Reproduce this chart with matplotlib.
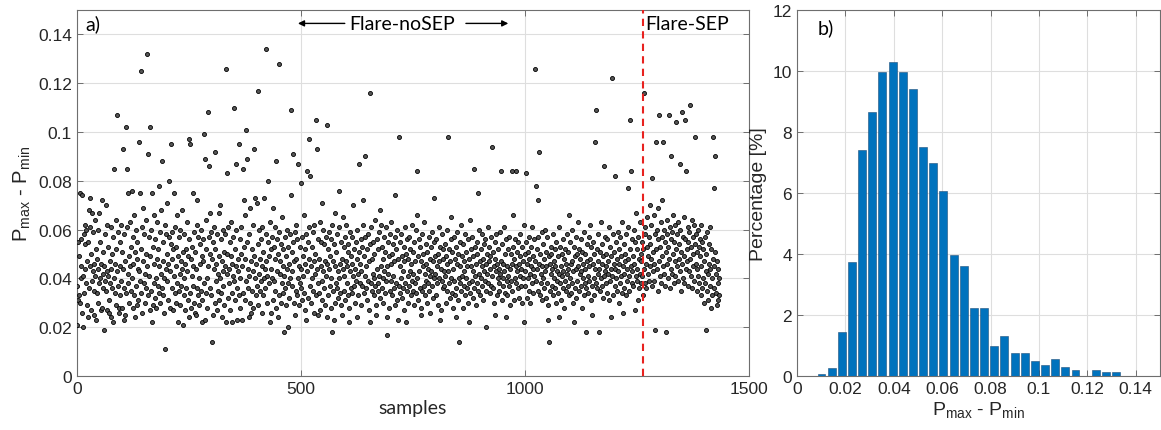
"""Flare samples: P_max - P_min scatter and its histogram."""

import matplotlib

matplotlib.use("Agg")
import matplotlib.pyplot as plt  # noqa: E402
import numpy as np  # noqa: E402

# P_max - P_min per sample, in units of 1e-3 (20 samples per row)
SAMPLE_VALUES_MILLI = """
37 21 31 55 49 33 75 30 45 40 56 74 26 41 20 58 34 44 62 54
38 60 47 29 55 24 68 36 61 45 73 27 50 39 67 43 59 35 46 25
64 41 52 23 34 48 60 44 30 67 38 55 40 27 46 72 28 51 36 42
19 45 58 39 70 35 62 43 27 53 41 26 31 47 38 61 24 44 50 36
22 57 40 85 46 34 64 29 52 107 43 37 59 28 26 55 33 45 62 39
51 28 44 93 36 58 23 47 25 102 34 85 61 42 75 38 30 49 63 45
53 35 76 40 28 57 46 66 33 51 24 60 37 29 48 55 44 31 96 43
75 39 125 52 34 61 26 47 69 38 58 42 30 50 64 36 45 132 91 33
41 57 27 49 102 35 60 22 75 29 53 38 66 46 32 56 40 28 63 48
37 52 34 78 45 30 59 42 68 36 88 47 33 55 26 40 11 62 44 58
39 50 71 31 46 57 80 28 43 54 95 36 59 48 27 52 41 75 34 61
45 30 53 38 66 22 49 57 35 42 60 29 47 37 68 44 21 51 33 40
58 27 46 52 36 43 63 31 49 24 56 97 34 95 48 28 41 53 37 75
45 30 59 26 51 25 44 62 36 72 33 57 40 29 46 54 35 60 22 49
31 47 56 99 38 23 89 52 34 64 40 28 108 45 57 86 36 50 67 59
33 14 48 55 25 44 61 30 52 92 39 46 27 58 42 35 67 49 31 70
40 56 34 47 24 60 43 37 51 29 45 58 22 126 42 83 50 32 61 44
38 55 27 49 63 34 46 22 41 57 110 39 52 31 87 45 60 36 23 48
43 95 33 56 40 28 50 61 23 45 34 85 53 72 66 31 48 39 101 89
55 36 44 24 58 41 30 69 47 26 52 35 62 43 28 49 93 40 73 33
46 71 37 54 29 117 42 60 35 48 39 56 26 45 61 33 51 40 73 44
36 58 47 134 41 30 55 80 38 49 63 22 44 26 52 40 57 31 69 53
39 61 35 48 28 88 43 56 24 50 33 59 128 42 47 30 54 38 65 45
34 52 41 18 57 36 49 29 44 60 38 53 20 46 32 58 40 74 109 43
51 37 91 55 30 47 25 59 35 62 48 33 56 87 40 45 29 53 38 79
44 36 57 31 49 41 66 34 52 27 46 58 23 43 84 55 32 97 48 61
37 82 45 30 53 40 59 35 47 26 62 42 50 33 105 44 93 38 56 25
48 34 63 27 45 55 39 71 31 60 43 36 54 47 29 41 57 24 103 46
52 33 44 59 37 49 28 56 40 18 62 35 47 23 54 30 45 67 38 51
36 58 43 32 76 40 61 34 46 55 29 48 25 65 44 35 53 41 57 31
47 62 38 45 54 33 51 22 28 59 43 36 49 57 34 46 41 70 37 52
44 30 55 39 48 24 60 42 33 51 87 38 46 56 29 43 53 37 62 72
49 34 57 41 90 36 45 52 31 58 39 47 27 54 22 116 38 61 35 48
42 55 33 50 40 64 37 25 29 56 44 35 52 38 59 41 68 32 62 45
36 53 40 48 30 57 43 34 51 39 61 17 45 24 55 42 28 49 58 35
46 39 63 33 50 41 54 36 47 29 57 74 38 52 31 60 23 48 98 37
55 34 45 40 58 32 49 43 36 53 27 47 61 38 22 50 35 56 41 30
48 57 37 43 52 33 46 39 62 35 51 42 29 55 38 47 34 60 84 66
40 49 31 56 43 36 53 28 47 25 58 35 45 50 37 63 42 33 54 39
46 30 51 38 44 57 35 48 41 26 53 43 37 59 32 47 40 55 73 49
42 33 56 45 38 50 29 61 40 47 23 53 44 27 58 39 48 36 52 43
37 54 41 30 49 46 60 35 43 98 38 52 32 47 56 40 65 34 51 28
44 57 39 48 33 53 24 36 59 46 31 50 40 14 55 38 45 62 35 49
41 28 54 37 47 43 33 58 40 51 36 45 30 56 22 48 38 64 34 52
45 39 57 32 49 43 85 36 53 41 46 29 55 38 50 75 35 60 42 47
33 52 40 45 58 37 48 31 54 43 39 56 46 35 20 50 42 61 38 47
53 34 44 49 37 57 41 94 36 51 45 30 55 25 48 43 58 33 46 40
52 38 44 35 59 42 47 84 31 54 40 46 37 61 43 50 34 24 56 39
45 33 52 41 37 57 44 29 50 39 84 46 35 53 66 48 31 56 40 45
84 38 51 43 36 55 46 32 49 41 58 37 44 53 30 47 40 62 22 50
43 37 55 83 46 32 51 40 48 35 57 42 30 53 45 38 61 44 49 34
41 56 47 126 39 78 52 44 35 57 72 92 46 33 50 42 38 59 45 31
54 40 48 36 60 43 32 51 45 38 57 23 29 49 14 46 35 53 42 50
37 44 58 33 47 40 52 36 45 30 55 43 39 49 34 61 42 24 38 53
45 31 50 41 36 56 43 48 28 52 39 46 35 58 42 37 51 44 33 66
40 55 46 34 60 38 47 43 30 53 22 49 36 57 44 32 50 39 63 45
35 52 42 48 37 56 43 28 51 40 46 33 59 44 38 50 36 18 47 54
41 34 57 45 39 62 48 31 53 25 37 55 46 40 50 33 96 44 38 109
52 36 47 42 58 18 44 35 51 40 63 46 37 54 32 49 86 41 57 43
38 50 45 34 56 42 47 31 61 39 53 44 24 49 122 41 58 33 46 51
82 37 44 55 40 48 35 59 43 30 52 46 38 57 41 49 34 63 45 26
54 42 36 50 47 33 58 44 39 61 48 77 41 35 105 52 84 45 38 56
43 49 37 60 46 27 55 41 67 39 52 44 31 57 48 36 63 42 50 38
47 41 55 33 52 116 44 58 38 61 46 36 53 65 42 49 57 39 70 45
54 48 62 37 81 51 43 66 46 39 58 19 96 52 44 60 35 56 69 47
107 41 53 63 38 57 49 72 96 45 60 42 55 37 18 51 64 46 58 40
53 107 48 61 36 56 44 90 59 42 66 50 38 55 47 62 41 104 52 45
58 39 63 48 54 87 43 60 35 51 108 46 57 40 65 49 38 56 105 44
84 52 47 61 37 55 43 59 111 48 53 41 64 36 50 57 45 62 39 54
98 46 58 35 51 44 60 41 53 38 56 49 33 62 45 36 55 40 52 30
47 38 57 43 19 50 35 59 42 31 54 46 37 61 44 28 52 40 33 48
98 77 45 36 51 90 34 42 29 47 38 31 44 33 40
"""

SEP_START = 1264  # first Flare-SEP sample

# histogram panel: bin centres and percentage per bin
BIN_CENTERS = [0.0101 + 0.0042 * i for i in range(30)]
BIN_PERCENT = [0.07, 0.27, 1.45, 3.75, 7.4, 8.65, 9.97, 10.3, 9.97, 9.42,
               7.52, 6.97, 6.05, 3.98, 3.6, 2.22, 2.22, 0.97, 1.3, 0.75,
               0.75, 0.48, 0.35, 0.55, 0.28, 0.2, 0.0, 0.2, 0.13, 0.13]

TICK_FONT = "Liberation Sans"
NOTE_FONT = "Lato"
TEXT_COL = "#262626"

values = np.array(SAMPLE_VALUES_MILLI.split(), dtype=float) / 1000.0
samples = np.arange(len(values))

plt.rcParams["font.family"] = TICK_FONT
plt.rcParams["mathtext.fontset"] = "custom"
plt.rcParams["mathtext.rm"] = TICK_FONT
plt.rcParams["mathtext.it"] = TICK_FONT


def _matlab_axes(ax):
    ax.grid(True, color="#dedede", lw=0.8)
    ax.set_axisbelow(True)
    for s in ax.spines.values():
        s.set_color("#6e6e6e")
        s.set_linewidth(0.8)
    ax.tick_params(direction="in", length=4, width=0.7, top=True, right=True,
                   labelsize=12.5, colors="#6e6e6e", labelcolor=TEXT_COL)


fig = plt.figure(figsize=(11.61, 4.31), dpi=100)
ax1 = fig.add_axes([0.0663, 0.1253, 0.5788, 0.8492])
ax2 = fig.add_axes([0.6865, 0.1253, 0.3126, 0.8492])

# ---- a) scatter
ax1.plot(samples, values, "o", ms=2.9, mfc="#555555", mec="black", mew=0.6,
         zorder=3)
ax1.axvline(SEP_START, color="#e8221f", ls=(0, (3.5, 2.5)), lw=1.5, zorder=4)
ax1.set_xlim(0, 1500)
ax1.set_ylim(0, 0.15)
ax1.set_xticks([0, 500, 1000, 1500])
ax1.set_yticks(np.arange(0, 0.141, 0.02))
ax1.set_yticklabels(["0", "0.02", "0.04", "0.06", "0.08", "0.1", "0.12", "0.14"])
_matlab_axes(ax1)
ax1.set_xlabel("samples", fontsize=14, family=NOTE_FONT, color=TEXT_COL,
               labelpad=2)
ax1.set_ylabel(r"P$_{\mathrm{max}}$ - P$_{\mathrm{min}}$", fontsize=14.5,
               color=TEXT_COL, labelpad=4)

ax1.text(18, 0.1445, "a)", fontsize=14, family=NOTE_FONT, va="center")
ax1.text(725, 0.1445, "Flare-noSEP", fontsize=14, family=NOTE_FONT,
         ha="center", va="center")
ax1.annotate("", xy=(487, 0.1445), xytext=(604, 0.1445),
             arrowprops=dict(arrowstyle="-|>", color="black", lw=1.0,
                             mutation_scale=9))
ax1.annotate("", xy=(969, 0.1445), xytext=(862, 0.1445),
             arrowprops=dict(arrowstyle="-|>", color="black", lw=1.0,
                             mutation_scale=9))
ax1.text(1362, 0.1445, "Flare-SEP", fontsize=14, family=NOTE_FONT,
         ha="center", va="center")

# ---- b) histogram
ax2.bar(BIN_CENTERS, BIN_PERCENT, width=0.0042 * 0.78, color="#0072BD",
        edgecolor="#1f4e79", lw=0.4, zorder=3)
ax2.set_xlim(0, 0.15)
ax2.set_ylim(0, 12)
ax2.set_xticks(np.arange(0, 0.141, 0.02))
ax2.set_xticklabels(["0", "0.02", "0.04", "0.06", "0.08", "0.1", "0.12", "0.14"])
ax2.set_yticks(range(0, 13, 2))
_matlab_axes(ax2)
ax2.set_xlabel(r"P$_{\mathrm{max}}$ - P$_{\mathrm{min}}$", fontsize=14,
               color=TEXT_COL, labelpad=2)
ax2.set_ylabel("Percentage [%]", fontsize=14, color=TEXT_COL, labelpad=4)
ax2.text(0.0085, 11.45, "b)", fontsize=14, family=NOTE_FONT, va="center")

fig.savefig("out.png", dpi=100)
plt.close(fig)
